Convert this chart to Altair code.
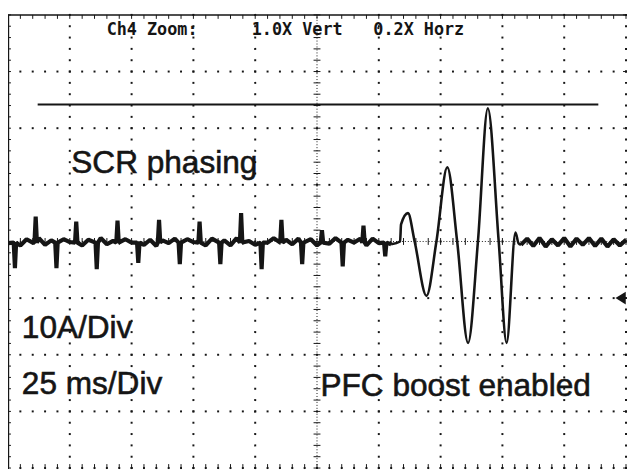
import altair as alt
import pandas as pd

# ---------------- data (time in ms, current in A) ----------------
# baseline samples every 2.5 ms (typed from the picture; noisy trace around 0 A)
base_step = 2.5
base_i = [
    -0.3, 0.4, -0.7, 0.4, -0.2, 0.6, -0.6, 0.2, -0.8, 0.4,
    -0.1, 0.5, -0.7, 0.3, -0.4, 0.6, -0.5, 0.1, -0.7, 0.4,
    -0.2, 0.6, -0.6, 0.3, -0.8, 0.2, -0.3, 0.5, -0.7, 0.4,
    -0.1, 0.4, -0.7, 0.5, -0.3, 0.2, -0.7, 0.6, -0.4, 0.1,
    -0.6, 0.4, -0.2, 0.6, -0.8, 0.3, -0.5, 0.5, -0.1, 0.4,
    -0.7, 0.2, -0.4, 0.6, -0.6, 0.3, -0.2, 0.5, -0.7, 0.5,
    -0.3, 0.4, -0.5, 0.2, 0.0, 0.0, 0.0, 0.0, 0.0, 0.0,
    0.0, 0.0, 0.0, 0.0, 0.0, 0.0, 0.0, 0.0, 0.0, 0.0,
    0.0, 0.0, 0.0, -0.6, 0.5, -0.8, 0.6, -0.9, 0.4, -0.7,
    0.6, -0.9, 0.5, -0.6, 0.6, -0.8, 0.5, -0.9, 0.4, -0.7,
    0.3,
]
# SCR phasing spikes
neg_t = [2.8, 19.6, 35.9, 52.7, 69.5, 85.9, 102.6, 119.0, 135.4, 152.6]
neg_v = [-4.7, -4.7, -4.9, -3.8, -4.0, -4.0, -4.9, -4.0, -4.4, -2.6]
pos_t = [11.2, 27.6, 44.3, 61.1, 77.5, 94.3, 110.6, 127.0, 143.8]
pos_v = [4.4, 3.5, 3.7, 3.8, 3.5, 5.0, 3.8, 2.0, 2.8]
# PFC boost oscillation
osc_t = [158.6, 159.0, 161.8, 164.5, 169.3, 173.3, 177.7, 181.7, 186.1, 190.1, 194.1, 198.5, 201.7, 205.3, 206.5]
osc_i = [0.0, 3.0, 5.0, 0.0, -9.6, 0.0, 13.1, 0.0, -17.9, 0.0, 23.5, 0.0, -17.9, 1.6, -0.3]
osc_start, osc_end = 156.5, 207.0

# cursor line and trigger marker
cursor_t = [12.0, 238.8]
cursor_i = 24.2
trigger_t, trigger_i = 247.3, -10.0

# annotations
top_texts = ["Ch4 Zoom:", "1.0X Vert", "0.2X Horz"]
top_t = [39.9, 98.6, 147.8]
top_i = [37.4, 37.4, 37.4]
big_texts = ["SCR phasing", "10A/Div", "25 ms/Div", "PFC boost enabled"]
big_t = [25.6, 5.6, 5.6, 126.4]
big_i = [13.8, -15.3, -25.1, -25.5]

# graticule: 10 x 8 divisions, 25 ms/div and 10 A/div, 5 minor ticks per division
T0, T1, I0, I1 = 0.0, 250.0, -40.0, 40.0
T_DIV, I_DIV, MINOR = 25.0, 10.0, 5

# ---------------- build tables ----------------
spikes = [(t, v) for t, v in zip(neg_t, neg_v)] + [(t, v) for t, v in zip(pos_t, pos_v)]
rows = []
for k, v in enumerate(base_i):
    t = k * base_step
    if osc_start < t < osc_end:
        continue
    if any(abs(t - st) < 1.0 for st, _ in spikes):
        continue
    rows.append((t, v))
for st, sv in spikes:
    rows += [(st - 0.5, -0.2), (st, sv), (st + 0.5, -0.2)]
rows.sort()
seg1 = [(t, v) for t, v in rows if t < osc_start]
seg2 = [(t, v) for t, v in rows if t > osc_end]
base_df = pd.DataFrame(
    [dict(t=t, i=v, seg="a", o=n) for n, (t, v) in enumerate(seg1)]
    + [dict(t=t, i=v, seg="b", o=n) for n, (t, v) in enumerate(seg2)]
)
osc_df = pd.DataFrame({"t": [seg1[-1][0]] + osc_t + [seg2[0][0]],
                       "i": [seg1[-1][1]] + osc_i + [seg2[0][1]]})

minor_t = T_DIV / MINOR
minor_i = I_DIV / MINOR
n_t = int(round((T1 - T0) / minor_t))
n_i = int(round((I1 - I0) / minor_i))
tc = (T0 + T1) / 2
ic = (I0 + I1) / 2

dots = []
for k in range(1, 11):
    t = T0 + k * T_DIV
    if abs(t - tc) < 1e-6:
        continue
    for j in range(n_i + 1):
        dots.append(dict(t=t, i=I0 + j * minor_i))
for k in range(0, 8):
    i = I0 + k * I_DIV
    if abs(i - ic) < 1e-6:
        continue
    for j in range(n_t + 1):
        dots.append(dict(t=T0 + j * minor_t, i=i))
dots_df = pd.DataFrame(dots)

center_v_ticks = pd.DataFrame([dict(t=tc, i=I0 + j * minor_i) for j in range(n_i + 1)])
center_h_ticks = pd.DataFrame([dict(t=T0 + j * minor_t, i=ic) for j in range(n_t + 1)])
top_ticks = pd.DataFrame([dict(t=T0 + j * minor_t, i=I1) for j in range(n_t + 1)])
bottom_ticks = pd.DataFrame([dict(t=T0 + j * minor_t, i=I0) for j in range(n_t + 1)])
left_ticks = pd.DataFrame([dict(t=T0, i=I0 + j * minor_i) for j in range(n_i + 1)])
right_ticks = pd.DataFrame([dict(t=T1, i=I0 + k * I_DIV) for k in range(9)])

rules_solid = pd.DataFrame([
    dict(t=T0, t2=T1, i=I1, i2=I1, w=1.5),
    dict(t=T0, t2=T0, i=I0, i2=I1, w=2.4),
    dict(t=cursor_t[0], t2=cursor_t[1], i=cursor_i, i2=cursor_i, w=2.0),
])
rules_dash = pd.DataFrame([
    dict(t=tc, t2=tc, i=I0, i2=I1),
    dict(t=T0, t2=T1, i=ic, i2=ic),
])
trig_df = pd.DataFrame({"t": [trigger_t], "i": [trigger_i]})
top_df = pd.DataFrame({"t": top_t, "i": top_i, "text": top_texts})
big_df = pd.DataFrame({"t": big_t, "i": big_i, "text": big_texts})

# ---------------- chart ----------------
xs = alt.Scale(domain=[T0, T1], nice=False, zero=False)
ys = alt.Scale(domain=[I0, I1], nice=False, zero=False)
X = alt.X("t:Q", scale=xs, axis=None)
Y = alt.Y("i:Q", scale=ys, axis=None)
INK = "#151515"

grid = alt.Chart(dots_df).mark_square(size=4, color=INK, opacity=1).encode(x=X, y=Y)

def ticks(df, path, size, width=1.0):
    return alt.Chart(df).mark_point(shape=path, size=size, filled=False, color=INK,
                                    strokeWidth=width, opacity=1).encode(x=X, y=Y)

cv = ticks(center_v_ticks, "M-1,0L1,0", 49)
ch = ticks(center_h_ticks, "M0,-1L0,1", 49)
tt = ticks(top_ticks, "M0,0L0,1", 64)
bt = ticks(bottom_ticks, "M0,0L0,-1", 64)
lt = ticks(left_ticks, "M0,0L1,0", 36)
rt = ticks(right_ticks, "M0,0L-1,0", 36)

solid = alt.Chart(rules_solid).mark_rule(color=INK).encode(
    x=X, x2="t2:Q", y=Y, y2="i2:Q", strokeWidth=alt.StrokeWidth("w:Q", scale=None))
dashed = alt.Chart(rules_dash).mark_rule(color=INK, strokeWidth=1, strokeDash=[1, 2]).encode(
    x=X, x2="t2:Q", y=Y, y2="i2:Q")

base_line = alt.Chart(base_df).mark_line(color=INK, strokeWidth=4.2, strokeJoin="bevel").encode(
    x=X, y=Y, detail="seg:N", order="o:Q")
osc_line = alt.Chart(osc_df).mark_line(color=INK, strokeWidth=2.6, interpolate="monotone").encode(
    x=X, y=Y)

trig = alt.Chart(trig_df).mark_point(shape="M1,-1L-0.6,0L1,1Z", size=170, filled=True,
                                     color=INK, opacity=1).encode(x=X, y=Y)

top_txt = alt.Chart(top_df).mark_text(
    align="left", baseline="middle", font="DejaVu Sans Mono", fontWeight="bold",
    fontSize=17, color=INK).encode(x=X, y=Y, text="text:N")
big_txt = alt.Chart(big_df).mark_text(
    align="left", baseline="middle", font="Liberation Sans", fontSize=32,
    color=INK, stroke=INK, strokeWidth=0.6).encode(x=X, y=Y, text="text:N")

chart = alt.layer(
    grid, dashed, cv, ch, tt, bt, lt, rt, solid, base_line, osc_line, trig, top_txt, big_txt
).properties(
    width=626, height=459,
    autosize=alt.AutoSizeParams(type="none"),
    padding={"left": 0, "top": 4, "right": 1, "bottom": 0},
    background="white",
).configure_view(strokeWidth=0)

chart.save("out.html", embed_options={"renderer": "svg", "actions": False})
